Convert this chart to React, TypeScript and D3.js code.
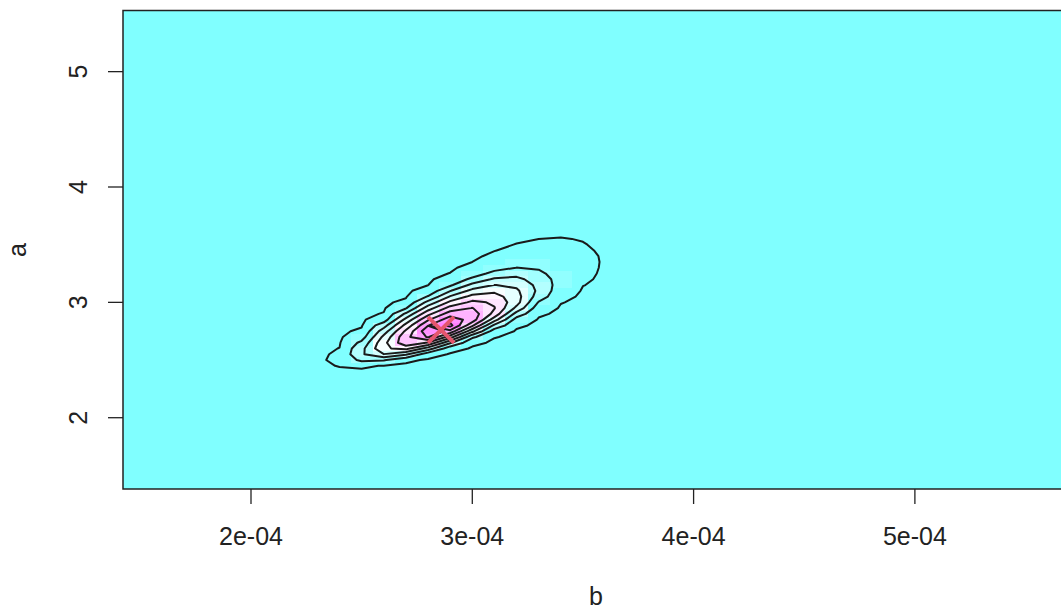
import React from 'react';
import * as d3 from 'd3';

const W = 1061, H = 609;

// axis ticks
const bTicks = [2e-4, 3e-4, 4e-4, 5e-4];
const bTickLabels = ['2e-04', '3e-04', '4e-04', '5e-04'];
const aTicks = [2, 3, 4, 5];
const aTickLabels = ['2', '3', '4', '5'];

// grid of the relative likelihood surface (per mille of the maximum scale)
const bValues = [2.2e-4, 2.3e-4, 2.4e-4, 2.5e-4, 2.6e-4, 2.7e-4, 2.8e-4, 2.9e-4, 3.0e-4, 3.1e-4, 3.2e-4, 3.3e-4, 3.4e-4, 3.5e-4, 3.6e-4, 3.7e-4];
const aValues = [3.70, 3.65, 3.60, 3.55, 3.50, 3.45, 3.40, 3.35, 3.30, 3.25, 3.20, 3.15, 3.10, 3.05, 3.00, 2.95, 2.90, 2.85, 2.80, 2.75, 2.70, 2.65, 2.60, 2.55, 2.50, 2.45, 2.40, 2.35, 2.30, 2.25];
const zRows = [
  [0, 0, 0, 0, 0, 0, 0, 0, 0, 0, 1, 2, 3, 3, 3, 1],
  [0, 0, 0, 0, 0, 0, 0, 0, 0, 0, 2, 3, 5, 5, 3, 2],
  [0, 0, 0, 0, 0, 0, 0, 0, 0, 1, 3, 6, 7, 7, 4, 2],
  [0, 0, 0, 0, 0, 0, 0, 0, 0, 2, 6, 10, 11, 9, 5, 2],
  [0, 0, 0, 0, 0, 0, 0, 0, 1, 4, 11, 16, 17, 11, 6, 2],
  [0, 0, 0, 0, 0, 0, 0, 0, 2, 9, 19, 26, 24, 14, 6, 2],
  [0, 0, 0, 0, 0, 0, 0, 1, 4, 17, 34, 42, 32, 17, 7, 2],
  [0, 0, 0, 0, 0, 0, 0, 1, 10, 34, 60, 63, 41, 19, 7, 2],
  [0, 0, 0, 0, 0, 0, 0, 4, 23, 67, 101, 90, 50, 20, 6, 1],
  [0, 0, 0, 0, 0, 0, 1, 11, 53, 128, 163, 120, 57, 20, 4, 1],
  [0, 0, 0, 0, 0, 0, 3, 30, 122, 217, 227, 151, 61, 16, 3, 0],
  [0, 0, 0, 0, 0, 0, 9, 82, 228, 302, 279, 172, 57, 11, 2, 0],
  [0, 0, 0, 0, 0, 1, 32, 194, 331, 378, 317, 179, 42, 6, 1, 0],
  [0, 0, 0, 0, 0, 5, 107, 309, 431, 441, 339, 154, 24, 3, 0, 0],
  [0, 0, 0, 0, 1, 22, 232, 424, 524, 486, 338, 92, 12, 1, 0, 0],
  [0, 0, 0, 0, 3, 92, 352, 539, 604, 505, 275, 43, 5, 1, 0, 0],
  [0, 0, 0, 0, 13, 219, 470, 652, 658, 468, 158, 17, 2, 0, 0, 0],
  [0, 0, 0, 1, 50, 331, 586, 760, 656, 344, 57, 6, 1, 0, 0, 0],
  [0, 0, 0, 5, 159, 433, 694, 832, 521, 176, 18, 2, 0, 0, 0, 0],
  [0, 0, 1, 19, 251, 518, 774, 671, 327, 49, 5, 1, 0, 0, 0, 0],
  [0, 0, 2, 54, 325, 573, 712, 444, 118, 12, 2, 0, 0, 0, 0, 0],
  [0, 0, 5, 123, 371, 572, 492, 214, 22, 3, 0, 0, 0, 0, 0, 0],
  [0, 0, 11, 171, 384, 432, 254, 36, 4, 1, 0, 0, 0, 0, 0, 0],
  [0, 1, 18, 186, 298, 218, 40, 5, 1, 0, 0, 0, 0, 0, 0, 0],
  [0, 2, 22, 123, 110, 22, 3, 1, 0, 0, 0, 0, 0, 0, 0, 0],
  [0, 2, 12, 19, 7, 1, 0, 0, 0, 0, 0, 0, 0, 0, 0, 0],
  [0, 1, 2, 1, 0, 0, 0, 0, 0, 0, 0, 0, 0, 0, 0, 0],
  [0, 0, 0, 0, 0, 0, 0, 0, 0, 0, 0, 0, 0, 0, 0, 0],
  [0, 0, 0, 0, 0, 0, 0, 0, 0, 0, 0, 0, 0, 0, 0, 0],
  [0, 0, 0, 0, 0, 0, 0, 0, 0, 0, 0, 0, 0, 0, 0, 0],
];
const contourLevels = [10, 100, 200, 300, 400, 500, 600, 700, 800, 900];
const estimate = { b: 2.8586e-4, a: 2.762 };
const nColors = 16;

function cmColor(t: number) {
  if (t <= 0.5) { const s = 0.5 * (1 - 2 * t); return d3.rgb(255 * (1 - s), 255, 255).formatHex(); }
  const s = 0.5 * (2 * t - 1); return d3.rgb(255, 255 * (1 - s), 255).formatHex();
}

export default function App() {
  const left = 123, top = 10.5, right = 1070, bottom = 489;
  const x = d3.scaleLinear().domain([1.4216e-4, 5.7009e-4]).range([left, right]);
  const y = d3.scaleLinear().domain([1.382, 5.530]).range([bottom, top]);

  const nbi = bValues.length, nai = aValues.length;
  const db = bValues[1] - bValues[0];
  const da = aValues[0] - aValues[1];
  // pad the grid with one ring of zeros so every contour closes
  const nb = nbi + 2, na = nai + 2;
  const values: number[] = [];
  for (let j = 0; j < na; j++) for (let i = 0; i < nb; i++) {
    const inner = i > 0 && i < nb - 1 && j > 0 && j < na - 1;
    values.push(inner ? zRows[j - 1][i - 1] : 0);
  }
  const gx = d3.scaleLinear().domain([1.5, nbi + 0.5]).range([x(bValues[0]), x(bValues[nbi - 1])]);
  const gy = d3.scaleLinear().domain([1.5, nai + 0.5]).range([y(aValues[0]), y(aValues[nai - 1])]);
  const proj = d3.geoTransform({ point(px: number, py: number) { (this as any).stream.point(gx(px), gy(py)); } });
  const path = d3.geoPath(proj);
  const conts = d3.contours().size([nb, na]).thresholds(contourLevels)(values);

  const zmax = d3.max(values) as number;
  const colorOf = (z: number) => { const k = Math.min(nColors - 1, Math.floor((z / zmax) * nColors)); return cmColor(k / (nColors - 1)); };
  const cells: JSX.Element[] = [];
  zRows.forEach((row, j) => row.forEach((z, i) => {
    if (z <= 0) return;
    const b = bValues[i], a = aValues[j];
    const x0 = x(b - db / 2), x1 = x(b + db / 2), y0 = y(a + da / 2), y1 = y(a - da / 2);
    cells.push(<rect key={`${i}-${j}`} x={x0} y={y0} width={x1 - x0 + 0.4} height={y1 - y0 + 0.4} fill={colorOf(z)} shapeRendering="crispEdges" />);
  }));

  const font = '"Liberation Sans", Arial, Helvetica, sans-serif';
  const ex = x(estimate.b), ey = y(estimate.a), r = 13;
  const ink = '#222';
  return (
    <svg width={W} height={H} style={{ position: 'absolute', left: 0, top: 0, background: '#fff' }} fontFamily={font}>
      <defs><clipPath id="pa"><rect x={left} y={top} width={right - left} height={bottom - top} /></clipPath></defs>
      <rect x={left} y={top} width={right - left} height={bottom - top} fill="#80FFFF" />
      <g clipPath="url(#pa)">
        {cells}
        {conts.map((c, k) => <path key={k} d={path(c as any) || ''} fill="none" stroke="#1a1a1a" strokeWidth={2} strokeLinejoin="round" />)}
        <g stroke="#E5566E" strokeWidth={4} strokeLinecap="butt">
          <line x1={ex - r} y1={ey - r} x2={ex + r} y2={ey + r} />
          <line x1={ex - r} y1={ey + r} x2={ex + r} y2={ey - r} />
        </g>
      </g>
      <rect x={left} y={top} width={right - left} height={bottom - top} fill="none" stroke={ink} strokeWidth={1.5} />
      {bTicks.map((t, i) => (
        <g key={i}>
          <line x1={x(t)} x2={x(t)} y1={bottom} y2={bottom + 15} stroke={ink} strokeWidth={1.3} />
          <text x={x(t)} y={545} textAnchor="middle" fontSize={25} fill={ink}>{bTickLabels[i]}</text>
        </g>
      ))}
      {aTicks.map((t, i) => (
        <g key={i}>
          <line x1={left - 15} x2={left} y1={y(t)} y2={y(t)} stroke={ink} strokeWidth={1.3} />
          <text transform={`translate(87,${y(t)}) rotate(-90)`} textAnchor="middle" fontSize={25} fill={ink}>{aTickLabels[i]}</text>
        </g>
      ))}
      <text x={596} y={605} textAnchor="middle" fontSize={25} fill={ink}>b</text>
      <text transform={`translate(26,250) rotate(-90)`} textAnchor="middle" fontSize={25} fill={ink}>a</text>
    </svg>
  );
}
